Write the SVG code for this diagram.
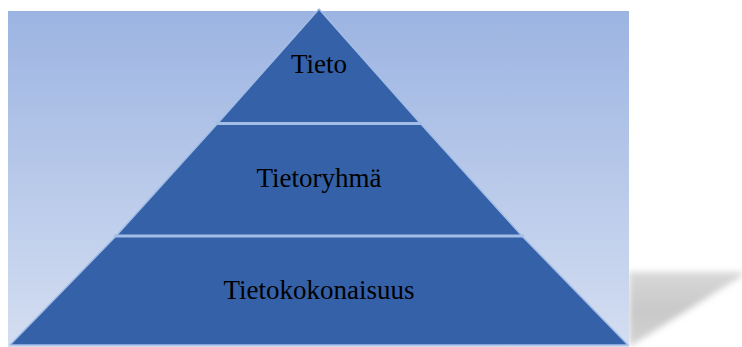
<svg xmlns="http://www.w3.org/2000/svg" width="742" height="347" viewBox="0 0 742 347">
<defs>
<linearGradient id="bg" x1="0" y1="0" x2="0" y2="1">
<stop offset="0" stop-color="#9cb4e2"/>
<stop offset="1" stop-color="#d4def1"/>
</linearGradient>
<linearGradient id="sh" x1="0" y1="0" x2="0" y2="1">
<stop offset="0" stop-color="#d8d8d8"/>
<stop offset="0.5" stop-color="#c9c9c9"/>
<stop offset="1" stop-color="#d2d2d2"/>
</linearGradient>
<filter id="blur" x="-20%" y="-20%" width="140%" height="140%">
<feGaussianBlur stdDeviation="3"/>
</filter>
<style>
.layer{fill:#3561a8;stroke:#a3bde6;stroke-width:1.5;stroke-linejoin:round}
.sep{stroke:#a3bde6;stroke-width:3}
.lbl{font-family:"Liberation Serif","Times New Roman",serif;font-size:27px;fill:#000;text-anchor:middle}
</style>
</defs>
<rect x="0" y="0" width="742" height="347" fill="#ffffff"/>
<polygon points="629,272 742,272 742,276 629,347" fill="url(#sh)" filter="url(#blur)"/>
<rect x="8" y="11" width="621" height="336" fill="url(#bg)"/>
<g id="tieto">
<polygon class="layer" points="319,9 420,123 218,123"/>
<text class="lbl" x="319" y="73">Tieto</text>
</g>
<g id="tietoryhma">
<polygon class="layer" points="218,123 420,123 522,236 116,236"/>
<text class="lbl" x="319" y="187">Tietoryhmä</text>
</g>
<g id="tietokokonaisuus">
<polygon class="layer" points="116,236 522,236 628,345 10,345"/>
<text class="lbl" x="319" y="299">Tietokokonaisuus</text>
</g>
<g id="connectors">
<line class="sep" x1="216" y1="123.5" x2="422" y2="123.5"/>
<line class="sep" x1="114" y1="236" x2="524" y2="236"/>
</g>
</svg>
